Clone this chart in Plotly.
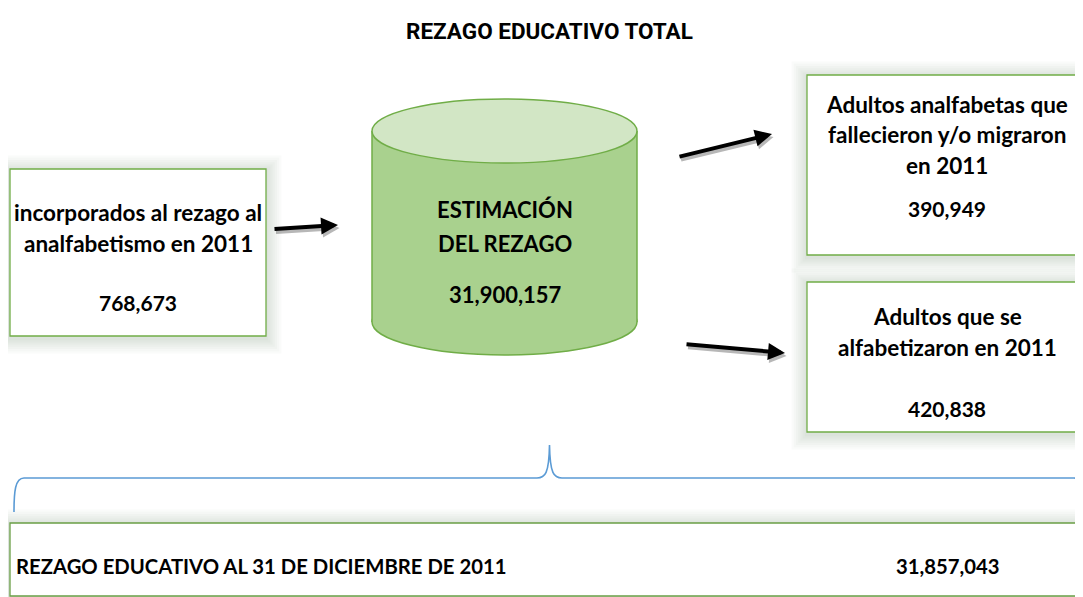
import plotly.graph_objects as go

W, H = 1083, 597
OFF = 8  # page body margin; axes offset so data units equal page pixels

# ---- data ----
title_text = "REZAGO EDUCATIVO TOTAL"
inflow_label = ["incorporados al rezago al", "analfabetismo en 2011"]
inflow_value = [768673]
stock_label = ["ESTIMACIÓN", "DEL REZAGO"]
stock_value = [31900157]
outflow_labels = [["Adultos analfabetas que", "fallecieron y/o migraron", "en 2011"],
                  ["Adultos que se", "alfabetizaron en 2011"]]
outflow_values = [390949, 420838]
final_label = ["REZAGO EDUCATIVO AL 31 DE DICIEMBRE DE 2011"]
final_value = [31857043]

GREEN = "#70AD47"
BODY = "#A9D18E"
TOP = "#D2E6C5"
BLUE = "#5B9BD5"
FONT = "Lato"

fig = go.Figure()
shapes = []
ann = []

def glow(x0, y0, x1, y1, n=7, step=2.2):
    for i in range(n, 0, -1):
        d = i * step
        shapes.append(dict(type="rect", xref="x", yref="y", x0=x0 - d, x1=x1 + d,
                           y0=y0 - d + 2, y1=y1 + d + 2, line=dict(width=0),
                           fillcolor="rgba(110,130,100,0.03)", layer="below"))

def box(x0, y0, x1, y1, color=GREEN):
    glow(x0, y0, x1, y1)
    shapes.append(dict(type="rect", xref="x", yref="y", x0=x0, x1=x1, y0=y0, y1=y1,
                       line=dict(color=color, width=1.3), fillcolor="white", layer="below"))

def txt(x, y, s, size=22.5, family=FONT, xanchor="center"):
    ann.append(dict(x=x, y=y, xref="x", yref="y", text="<b>%s</b>" % s, showarrow=False,
                    font=dict(family=family, size=size, color="black"),
                    xanchor=xanchor, yanchor="middle"))

def arrow(tx, ty, hx, hy):
    for dx, dy, col in [(1.5, 3, "rgba(0,0,0,0.28)"), (0, 0, "black")]:
        ann.append(dict(x=hx + dx, y=hy + dy, ax=tx + dx, ay=ty + dy, xref="x", yref="y",
                        axref="x", ayref="y", text="", showarrow=True, arrowhead=2,
                        arrowsize=0.85, arrowwidth=4, arrowcolor=col, standoff=0,
                        startstandoff=0))

fmt = lambda v: f"{v:,}"
NUM = 21

# title
txt(549, 31, title_text, size=22.5, family="Roboto")

# left box
box(10, 169, 266, 336)
txt(138, 212, inflow_label[0])
txt(138, 243, inflow_label[1])
txt(138, 302, fmt(inflow_value[0]), size=NUM)

# cylinder
cx0, cx1 = 372, 637
shapes.append(dict(type="circle", xref="x", yref="y", x0=cx0, x1=cx1, y0=289, y1=355,
                   fillcolor=BODY, line=dict(color=GREEN, width=1.5)))
shapes.append(dict(type="rect", xref="x", yref="y", x0=cx0, x1=cx1, y0=131, y1=322,
                   fillcolor=BODY, line=dict(width=0)))
for xx in (cx0, cx1):
    shapes.append(dict(type="line", xref="x", yref="y", x0=xx, x1=xx, y0=131, y1=322,
                       line=dict(color=GREEN, width=1.5)))
shapes.append(dict(type="circle", xref="x", yref="y", x0=cx0, x1=cx1, y0=99, y1=163,
                   fillcolor=TOP, line=dict(color=GREEN, width=1.5)))
txt(505, 209, stock_label[0], size=22)
txt(505, 243, stock_label[1], size=22)
txt(505, 294, fmt(stock_value[0]), size=22)

# right boxes
box(807, 75, 1090, 255)
for i, s in enumerate(outflow_labels[0]):
    txt(947, 104 + 30.5 * i, s)
txt(947, 208, fmt(outflow_values[0]), size=NUM)

box(807, 282, 1090, 432)
for i, s in enumerate(outflow_labels[1]):
    txt(947, 316 + 31.5 * i, s)
txt(947, 408, fmt(outflow_values[1]), size=NUM)

# arrows
arrow(273, 229, 338, 225)
arrow(678, 157, 772, 134)
arrow(685, 344, 785, 353)

# brace
brace = ("M 14,512 C 14,492 15,478 24,478 L 537,478 C 545,478 549,474 549.5,445 "
         "C 550,474 554,478 562,478 L 1074,478 C 1082,478 1084,492 1084,512")
shapes.append(dict(type="path", xref="x", yref="y", path=brace,
                   line=dict(color=BLUE, width=1.6)))

# bottom box
box(10, 523, 1092, 596, color="#6A9F45")
txt(14, 566, final_label[0], size=20.3, xanchor="left")
txt(948, 566, fmt(final_value[0]), size=20.3)

fig.update_layout(
    width=W - OFF, height=H - OFF, margin=dict(l=0, r=0, t=0, b=0),
    paper_bgcolor="white", plot_bgcolor="white",
    xaxis=dict(range=[OFF, W], visible=False, fixedrange=True),
    yaxis=dict(range=[H, OFF], visible=False, fixedrange=True),
    shapes=shapes, annotations=ann, showlegend=False,
)
fig.write_html("out.html")
